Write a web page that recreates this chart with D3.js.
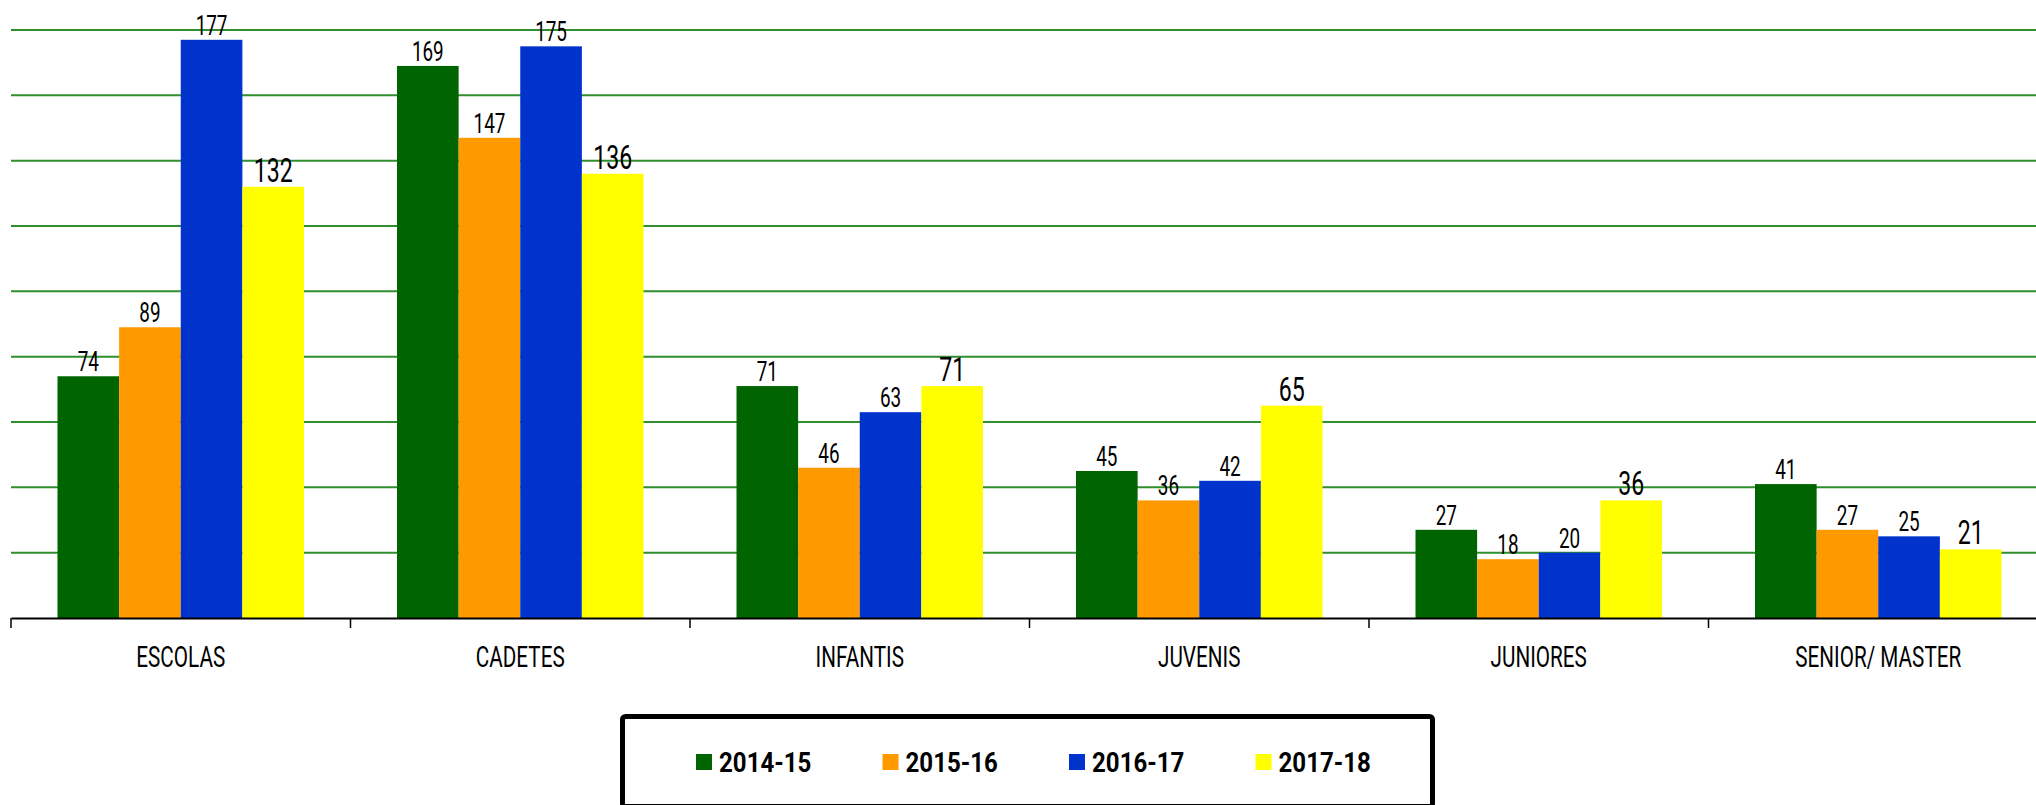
<!DOCTYPE html>
<html>
<head>
<meta charset="utf-8">
<script src="https://cdn.jsdelivr.net/npm/d3@7"></script>
<style>
  body { margin: 0; background: #fff; }
  svg { display: block; }
</style>
</head>
<body>
<script>
var w = 2036;
var h = 805;

var categories = ["ESCOLAS", "CADETES", "INFANTIS", "JUVENIS", "JUNIORES", "SENIOR/ MASTER"];
var seasons = ["2014-15", "2015-16", "2016-17", "2017-18"];
var colors = ["#006400", "#ff9900", "#0033cc", "#ffff00"];

var v2014 = [74, 169, 71, 45, 27, 41];
var v2015 = [89, 147, 46, 36, 18, 27];
var v2016 = [177, 175, 63, 42, 20, 25];
var v2017 = [132, 136, 71, 65, 36, 21];
var yTicks = [20, 40, 60, 80, 100, 120, 140, 160, 180];

var values = [v2014, v2015, v2016, v2017];

var plotLeft = 11, plotRight = 2048;
var baseY = 618, topY = 30;
var groupPad = 46.5;

var svg = d3.select("body")
            .append("svg")
            .attr("width", w)
            .attr("height", h);

var x0 = d3.scaleBand()
           .domain(categories)
           .range([plotLeft, plotRight]);

var x1 = d3.scaleBand()
           .domain(seasons)
           .range([groupPad, x0.bandwidth() - groupPad]);

var y = d3.scaleLinear()
          .domain([0, 180])
          .range([baseY, topY]);

var color = d3.scaleOrdinal().domain(seasons).range(colors);

// gridlines
svg.append("g")
   .selectAll("line")
   .data(yTicks)
   .enter()
   .append("line")
   .attr("x1", plotLeft)
   .attr("x2", w)
   .attr("y1", function(d){ return y(d); })
   .attr("y2", function(d){ return y(d); })
   .attr("stroke", "#2f8f2f")
   .attr("stroke-width", 2);

// bars
var groups = svg.selectAll("g.cat")
    .data(categories)
    .enter()
    .append("g")
    .attr("class", "cat")
    .attr("transform", function(d){ return "translate(" + x0(d) + ",0)"; });

function rows(d, i){
    return seasons.map(function(s, j){ return {season: s, value: values[j][i], j: j}; });
}

groups.selectAll("rect")
    .data(rows)
    .enter()
    .append("rect")
    .attr("x", function(d){ return x1(d.season); })
    .attr("width", x1.bandwidth())
    .attr("y", function(d){ return y(d.value); })
    .attr("height", function(d){ return baseY - y(d.value); })
    .attr("fill", function(d){ return color(d.season); });

// value labels (last season drawn larger)
groups.selectAll("g.lbl")
    .data(rows)
    .enter()
    .append("g")
    .attr("class", "lbl")
    .attr("transform", function(d){
        return "translate(" + (x1(d.season) + x1.bandwidth() / 2) + "," + (y(d.value) - 5) + ")";
    })
    .append("text")
    .attr("transform", "scale(0.7,1)")
    .attr("text-anchor", "middle")
    .attr("font-family", "Roboto, sans-serif")
    .attr("font-size", function(d){ return d.j == 3 ? 33 : 27; })
    .attr("fill", "#000")
    .text(function(d){ return d.value; });

// x axis
var xAxis = d3.axisBottom(x0).tickSize(0).tickPadding(28);
var gx = svg.append("g")
    .attr("transform", "translate(0," + baseY + ")")
    .call(xAxis);
gx.select(".domain").attr("stroke", "#000").attr("stroke-width", 2);
gx.selectAll("text")
  .attr("transform", "scale(0.69,1)")
  .attr("font-family", "Roboto, sans-serif")
  .attr("font-size", 30)
  .attr("fill", "#000");

// boundary ticks
gx.selectAll("line.bound")
  .data(categories)
  .enter()
  .append("line")
  .attr("class", "bound")
  .attr("x1", function(d){ return x0(d); })
  .attr("x2", function(d){ return x0(d); })
  .attr("y1", 0)
  .attr("y2", 10)
  .attr("stroke", "#000")
  .attr("stroke-width", 1.5);

// legend
var legend = svg.append("g");
legend.append("rect")
      .attr("x", 622.5)
      .attr("y", 716.5)
      .attr("width", 810)
      .attr("height", 90)
      .attr("rx", 3)
      .attr("fill", "#fff")
      .attr("stroke", "#000")
      .attr("stroke-width", 5);

var items = legend.selectAll("g.item")
    .data(seasons)
    .enter()
    .append("g")
    .attr("class", "item")
    .attr("transform", function(d, i){ return "translate(" + (696 + i * 186.5) + ",754)"; });

items.append("rect")
     .attr("width", 16)
     .attr("height", 16)
     .attr("fill", function(d){ return color(d); });

items.append("g")
     .attr("transform", "translate(23,18)")
     .append("text")
     .attr("transform", "scale(0.86,1)")
     .attr("font-family", "Roboto, sans-serif")
     .attr("font-weight", "bold")
     .attr("font-size", 28)
     .attr("fill", "#000")
     .text(function(d){ return d; });
</script>
</body>
</html>
